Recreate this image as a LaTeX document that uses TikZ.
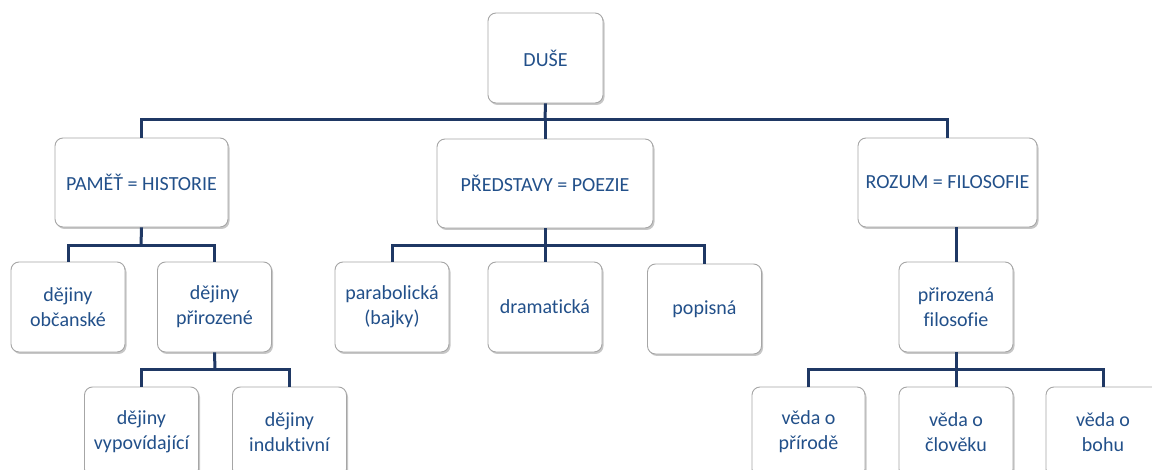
\documentclass[tikz,border=0pt]{standalone}
\usepackage{fontspec}
\setmainfont{Carlito}[Ligatures={NoCommon}]
\usetikzlibrary{shadows}
\definecolor{textblue}{HTML}{22508A}
\definecolor{linenavy}{HTML}{1F3864}
\definecolor{boxgray}{HTML}{A6A6A6}
\tikzset{
  box/.style={draw=boxgray, line width=0.9pt, rounded corners=8pt, fill=white,
    minimum width=114pt, minimum height=90pt, align=center, text=textblue,
    font=\fontsize{20}{25}\selectfont, inner sep=2pt,
    drop shadow={shadow xshift=1.5pt, shadow yshift=-2pt, fill=black, opacity=0.22}},
  conn/.style={draw=linenavy, line width=3pt, line join=miter}
}
\begin{document}
\begin{tikzpicture}[x=1pt,y=-1pt]
\useasboundingbox (0,0) rectangle (1152,470);
\clip (0,0) rectangle (1152,470);
\fill[white] (0,0) rectangle (1152,470);
\coordinate (j0) at (545,120);
\coordinate (j1) at (141,246);
\coordinate (j2) at (545,246);
\coordinate (j3) at (956,370);
\coordinate (j4) at (215,370);
% nodes
\node[box, minimum width=115pt] (duse) at (545.5,58) {DUŠE};
\node[box, minimum width=173pt, minimum height=89pt] (pamet) at (141.5,182.5) {PAMĚŤ = HISTORIE};
\node[box, minimum width=216pt, minimum height=89pt] (predst) at (545,183.5) {PŘEDSTAVY = POEZIE};
\node[box, minimum width=179pt, minimum height=89pt] (rozum) at (947.5,182.5) {ROZUM = FILOSOFIE};
\node[box] (obc) at (68,307) {dějiny\\občanské};
\node[box] (prir) at (214.5,307) {dějiny\\přirozené};
\node[box] (para) at (392,307) {parabolická\\(bajky)};
\node[box] (drama) at (545,307) {dramatická};
\node[box] (popis) at (704.5,309) {popisná};
\node[box] (filo) at (956,307) {přirozená\\filosofie};
\node[box] (vyp) at (141.5,432) {dějiny\\vypovídající};
\node[box] (ind) at (289.5,432) {dějiny\\induktivní};
\node[box, minimum width=113pt] (prirod) at (808.5,432) {věda o\\přírodě};
\node[box] (clovek) at (956,432) {věda o\\člověku};
\node[box] (bohu) at (1103,432) {věda o\\bohu};
% connectors
\draw[conn] (duse.south) -- (j0);
\draw[conn] (j0) -| (pamet.north);
\draw[conn] (j0) -| (rozum.north);
\draw[conn] (j0) -- (predst.north);
\draw[conn] (pamet.south) -- (j1);
\draw[conn] (j1) -| (obc.north);
\draw[conn] (j1) -| (prir.north);
\draw[conn] (predst.south) -- (j2);
\draw[conn] (j2) -| (para.north);
\draw[conn] (j2) -| (popis.north);
\draw[conn] (j2) -- (drama.north);
\draw[conn] (rozum.south -| filo.north) -- (filo.north);
\draw[conn] (filo.south) -- (j3);
\draw[conn] (j3) -| (prirod.north);
\draw[conn] (j3) -| (bohu.north);
\draw[conn] (j3) -- (clovek.north);
\draw[conn] (prir.south) -- (j4);
\draw[conn] (j4) -| (vyp.north);
\draw[conn] (j4) -| (ind.north);
\end{tikzpicture}
\end{document}
